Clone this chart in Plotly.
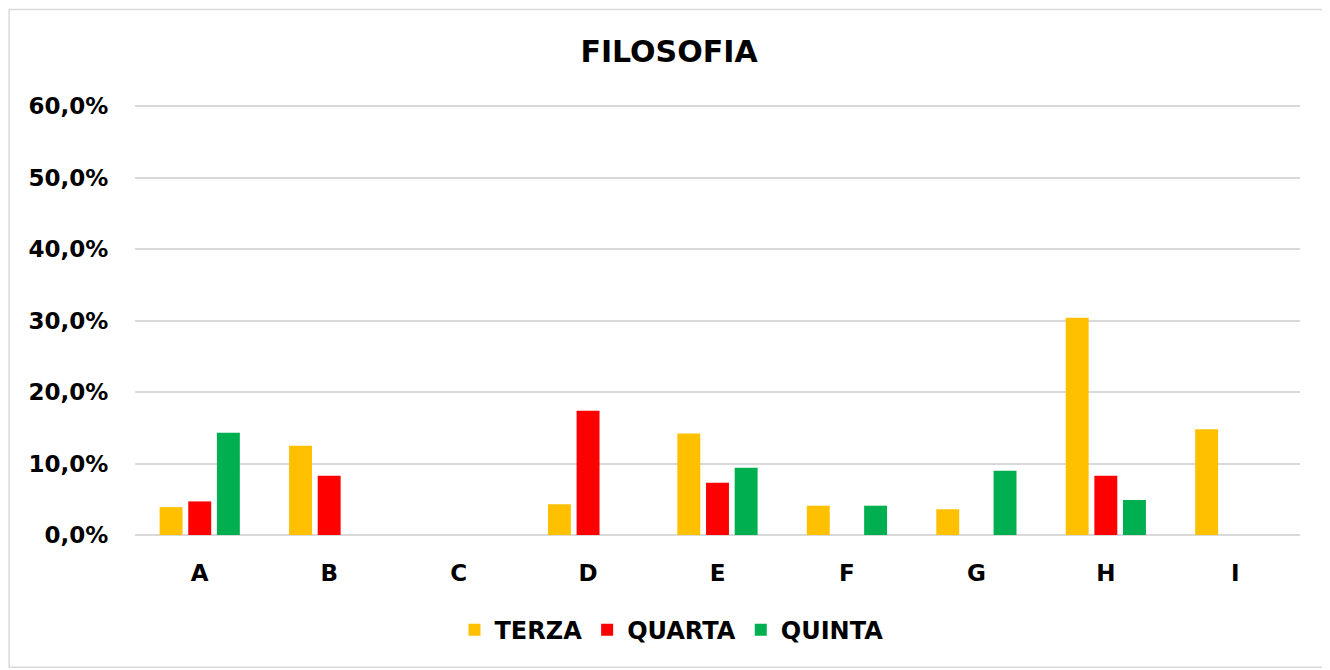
import plotly.graph_objects as go

categories = ['A', 'B', 'C', 'D', 'E', 'F', 'G', 'H', 'I']
terza = [0.039, 0.125, None, 0.043, 0.142, 0.041, 0.036, 0.304, 0.148]
quarta = [0.047, 0.083, None, 0.174, 0.073, None, None, 0.083, None]
quinta = [0.143, None, None, None, 0.094, 0.041, 0.090, 0.049, None]

font_main = dict(family='DejaVu Sans', size=23, color='#000000', weight=700)

fig = go.Figure()
for name, vals, col in [('TERZA', terza, '#FFC000'),
                        ('QUARTA', quarta, '#FF0000'),
                        ('QUINTA', quinta, '#00B050')]:
    fig.add_trace(go.Bar(x=categories, y=vals, name=name, marker_color=col,
                         marker_line_width=0))

# page body has an 8px margin, so the figure is sized to fill the rest
fig.update_layout(
    width=1322, height=662,
    paper_bgcolor='white', plot_bgcolor='white',
    separators=',.',
    title=dict(text='FILOSOFIA', x=0.5, xanchor='center', y=0.934, yanchor='middle',
               font=dict(family='DejaVu Sans', size=30, color='#000000', weight=700)),
    margin=dict(l=127, r=30, t=96, b=135),
    barmode='group', bargap=0.336, bargroupgap=0.2,
    legend=dict(orientation='h', x=0.4605, xanchor='center', y=-0.221, yanchor='middle',
                font=dict(family='DejaVu Sans', size=24, color='#000000', weight=700),
                itemwidth=30, traceorder='normal'),
    xaxis=dict(showgrid=False, showline=False, ticks='outside', ticklen=17,
               tickcolor='rgba(0,0,0,0)', tickfont=font_main),
    # a little headroom so the 60% gridline is drawn
    yaxis=dict(range=[0, 0.603], tickvals=[0, 0.1, 0.2, 0.3, 0.4, 0.5, 0.6],
               tickformat='.1%', showgrid=True,
               gridcolor='#D9D9D9', gridwidth=1.5, zeroline=True, zerolinecolor='#D9D9D9',
               zerolinewidth=1.5, ticks='outside', ticklen=21,
               tickcolor='rgba(0,0,0,0)', tickfont=font_main),
)

# outer chart border
fig.add_shape(type='rect', xref='paper', yref='paper',
              x0=-0.108, x1=1.024, y0=-0.307, y1=1.219,
              line=dict(color='#D9D9D9', width=1.5), layer='below')

fig.write_html('out.html')
